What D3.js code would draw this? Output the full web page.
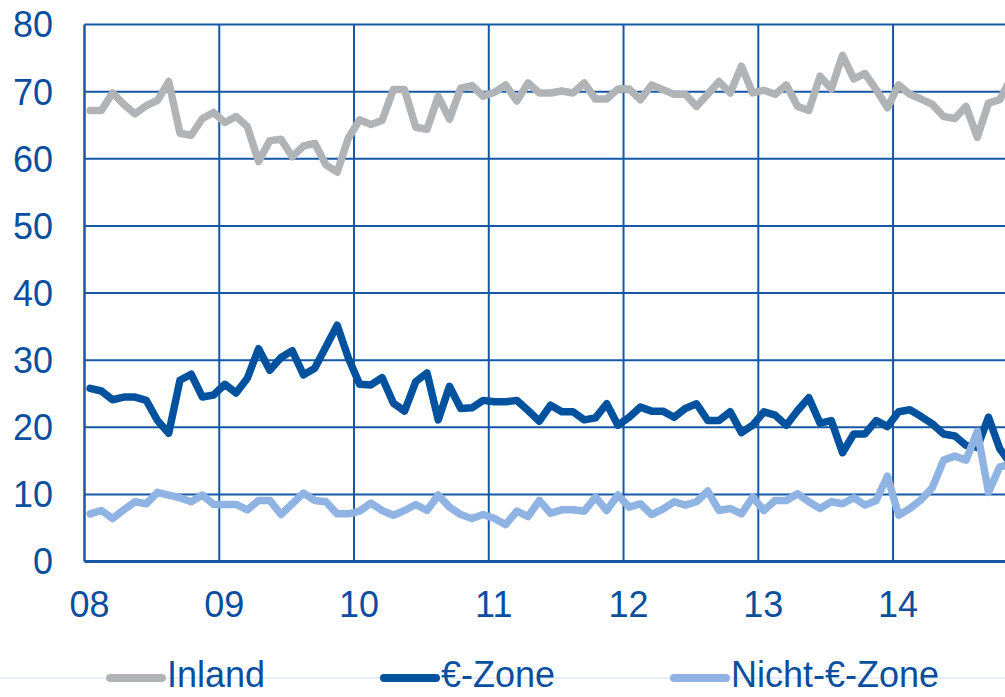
<!DOCTYPE html>
<html>
<head>
<meta charset="utf-8">
<script src="https://cdn.jsdelivr.net/npm/d3@7"></script>
<style>
  body { margin: 0; background: #fff; }
  svg { display: block; font-family: "Liberation Sans", Arial, sans-serif; }
</style>
</head>
<body>
<div id="chart"></div>
<script>
// monthly values, Jan 2008 .. Nov 2014
const inland = [67.2, 67.2, 69.8, 68.1, 66.7, 67.9, 68.7, 71.5, 63.8, 63.5, 66.0, 66.9,
  65.4, 66.3, 64.8, 59.6, 62.7, 62.9, 60.3, 61.9, 62.3, 59.1, 58.0, 63.1,
  65.8, 65.1, 65.7, 70.3, 70.3, 64.7, 64.4, 69.3, 65.9, 70.5, 70.9, 69.3,
  69.9, 71.0, 68.6, 71.3, 69.8, 69.8, 70.1, 69.8, 71.3, 68.9, 68.9, 70.4,
  70.4, 68.8, 71.0, 70.3, 69.6, 69.6, 67.8, 69.6, 71.5, 69.8, 73.8, 69.8,
  70.2, 69.6, 71.0, 67.8, 67.2, 72.3, 70.4, 75.4, 71.9, 72.7, 70.3, 67.6,
  71.0, 69.6, 68.9, 68.1, 66.3, 66.0, 67.8, 63.2, 68.3, 68.8, 72.0];
const euroZone = [25.8, 25.4, 24.1, 24.5, 24.5, 24.0, 21.0, 19.1, 27.0, 27.9, 24.5, 24.8,
  26.4, 25.1, 27.3, 31.7, 28.5, 30.4, 31.4, 27.8, 28.8, 32.0, 35.2, 30.3,
  26.4, 26.3, 27.4, 23.6, 22.4, 26.8, 28.1, 21.1, 26.1, 22.8, 22.9, 24.0,
  23.8, 23.8, 24.0, 22.5, 20.9, 23.3, 22.3, 22.3, 21.1, 21.4, 23.5, 20.3,
  21.5, 23.0, 22.4, 22.4, 21.5, 22.8, 23.5, 21.0, 21.0, 22.3, 19.2, 20.3,
  22.3, 21.8, 20.3, 22.5, 24.4, 20.6, 21.0, 16.2, 19.0, 19.0, 21.0, 20.1,
  22.3, 22.6, 21.6, 20.5, 19.0, 18.7, 17.3, 17.0, 21.5, 16.8, 14.5];
const nonEuroZone = [7.1, 7.6, 6.4, 7.7, 8.9, 8.6, 10.3, 9.9, 9.5, 8.9, 9.9, 8.5,
  8.5, 8.5, 7.7, 9.1, 9.1, 7.0, 8.6, 10.2, 9.1, 8.9, 7.1, 7.1,
  7.5, 8.7, 7.6, 6.9, 7.6, 8.5, 7.6, 9.9, 8.1, 7.0, 6.4, 7.0,
  6.4, 5.5, 7.5, 6.7, 9.1, 7.2, 7.7, 7.7, 7.5, 9.6, 7.6, 9.9,
  8.1, 8.6, 7.0, 7.8, 8.9, 8.4, 8.9, 10.5, 7.6, 7.9, 7.1, 9.6,
  7.6, 9.1, 9.1, 10.1, 8.9, 7.9, 8.9, 8.6, 9.5, 8.4, 9.1, 12.7,
  6.9, 7.9, 9.2, 11.0, 15.1, 15.7, 15.1, 19.4, 10.3, 14.1, 14.5];
const yearLabels = ["08", "09", "10", "11", "12", "13", "14"];
const yTicks = [0, 10, 20, 30, 40, 50, 60, 70, 80];
const seriesNames = ["Inland", "€-Zone", "Nicht-€-Zone"];

const width = 1005, height = 697;
const plotLeft = 84.5, plotTop = 24.5, plotBottom = 561.5;
const monthW = 11.23;
const gridColor = "#1458a6", textColor = "#0a4f9e";
const colors = ["#b1b4b7", "#00529f", "#8fb4e3"];

const svg = d3.select("#chart").append("svg")
  .attr("width", width).attr("height", height);

const x = d3.scaleLinear().domain([0, 84]).range([plotLeft, plotLeft + 84 * monthW]);
const y = d3.scaleLinear().domain([0, 80]).range([plotBottom, plotTop]);

// horizontal grid
svg.append("g").selectAll("line").data(yTicks).enter().append("line")
  .attr("x1", plotLeft).attr("x2", width)
  .attr("y1", d => y(d)).attr("y2", d => y(d))
  .attr("stroke", gridColor)
  .attr("stroke-width", d => d === 0 ? 3 : 2);

// vertical grid at years
svg.append("g").selectAll("line").data(yearLabels).enter().append("line")
  .attr("x1", (d, i) => x(i * 12)).attr("x2", (d, i) => x(i * 12))
  .attr("y1", plotTop).attr("y2", plotBottom)
  .attr("stroke", gridColor)
  .attr("stroke-width", (d, i) => i === 0 ? 2.5 : 2);

// y labels
svg.append("g").selectAll("text").data(yTicks).enter().append("text")
  .attr("x", 53).attr("y", d => y(d))
  .attr("dy", "0.36em")
  .attr("text-anchor", "end")
  .attr("fill", textColor)
  .style("font-size", "36px")
  .text(d => d);

// x labels
svg.append("g").selectAll("text").data(yearLabels).enter().append("text")
  .attr("x", (d, i) => x(i * 12) + 5).attr("y", 617)
  .attr("text-anchor", "middle")
  .attr("fill", textColor)
  .style("font-size", "36px")
  .text(d => d);

const line = d3.line()
  .x((d, i) => x(i + 0.5))
  .y(d => y(d))
  .curve(d3.curveLinear);

[inland, euroZone, nonEuroZone].forEach((s, k) => {
  svg.append("path")
    .datum(s)
    .attr("d", line)
    .attr("fill", "none")
    .attr("stroke", colors[k])
    .attr("stroke-width", 7.5)
    .attr("stroke-linejoin", "round")
    .attr("stroke-linecap", "round");
});

// legend
svg.append("line")
  .attr("x1", 0).attr("x2", width)
  .attr("y1", 678).attr("y2", 678)
  .attr("stroke", "#c9dbf2").attr("stroke-width", 1);

const legendX = [106, 380, 670];
const lg = svg.append("g").selectAll("g").data(seriesNames).enter().append("g");
lg.append("line")
  .attr("x1", (d, i) => legendX[i] + 4).attr("x2", (d, i) => legendX[i] + 56)
  .attr("y1", 678).attr("y2", 678)
  .attr("stroke", (d, i) => colors[i])
  .attr("stroke-width", 8)
  .attr("stroke-linecap", "round");
lg.append("text")
  .attr("x", (d, i) => legendX[i] + 61).attr("y", 687)
  .attr("fill", textColor)
  .style("font-size", "36px")
  .text(d => d);
</script>
</body>
</html>
